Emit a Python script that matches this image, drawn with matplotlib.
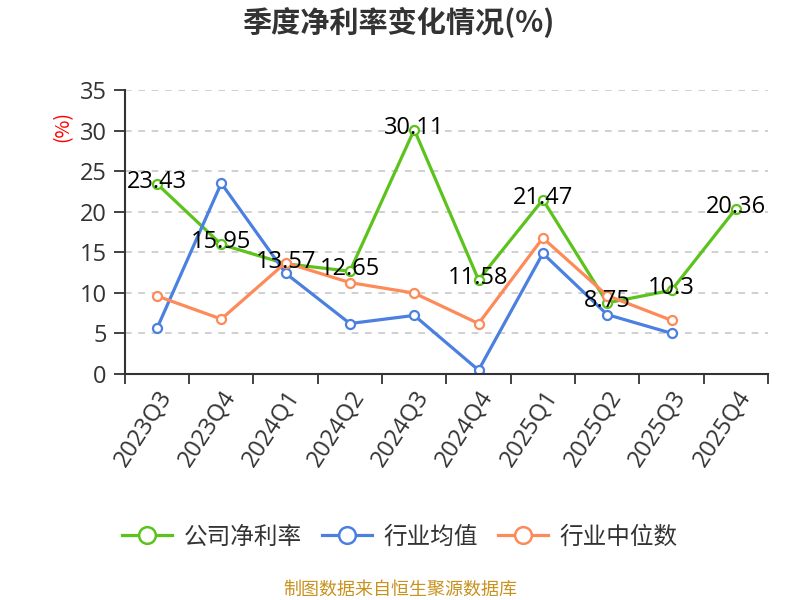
import numpy as np
import matplotlib
matplotlib.use("Agg")
import matplotlib.pyplot as plt

plt.rcParams['font.family'] = ['Noto Sans CJK SC', 'DejaVu Sans']
num_font = ['Open Sans', 'Noto Sans CJK SC']

quarters = ['2023Q3', '2023Q4', '2024Q1', '2024Q2', '2024Q3',
            '2024Q4', '2025Q1', '2025Q2', '2025Q3', '2025Q4']
company = [23.43, 15.95, 13.57, 12.65, 30.11, 11.58, 21.47, 8.75, 10.3, 20.36]
ind_mean = [5.6, 23.5, 12.4, 6.2, 7.2, 0.45, 14.85, 7.3, 5.0]
ind_median = [9.6, 6.75, 13.7, 11.25, 9.95, 6.2, 16.75, 9.65, 6.6]

series_names = ['公司净利率', '行业均值', '行业中位数']
colors = ['#5cc21c', '#4b80e0', '#fd8a58']

fig = plt.figure(figsize=(8, 6), dpi=100)
ax = fig.add_axes([0.156, 0.377, 0.804, 0.473])

x = np.arange(len(quarters))
for vals, name, col in zip([company, ind_mean, ind_median], series_names, colors):
    ax.plot(x[:len(vals)], vals, color=col, lw=2.3, marker='o', ms=6.5,
            mfc='white', mec=col, mew=1.6, label=name)

for xi, v in zip(x, company):
    ax.text(xi, v + 0.25, f'{v:g}', ha='center', va='center',
            fontsize=17, color='black', zorder=10, family=num_font)

ax.set_xlim(-0.5, len(quarters) - 0.5)
ax.set_ylim(0, 35)
ax.set_yticks(np.arange(0, 36, 5))
ax.set_yticklabels([str(v) for v in range(0, 36, 5)], family=num_font)
ax.set_xticks(np.arange(-0.5, len(quarters), 1.0))
ax.set_xticklabels([])
ax.set_xticks(x, minor=True)
ax.set_xticklabels(quarters, minor=True, rotation=57, ha='right',
                   rotation_mode='anchor', fontsize=17, color='#333333',
                   family=num_font)
ax.tick_params(axis='x', which='minor', length=0, pad=9)
ax.tick_params(axis='x', which='major', length=7, width=1.3, color='#333333')
ax.tick_params(axis='y', length=8, width=1.3, color='#333333', pad=5,
               labelsize=17, labelcolor='#333333')
ax.yaxis.grid(True, linestyle=(0, (4, 4)), color='#c8c8c8', lw=1.2)
ax.set_axisbelow(True)
for s in ['top', 'right']:
    ax.spines[s].set_visible(False)
for s in ['left', 'bottom']:
    ax.spines[s].set_color('#333333')
    ax.spines[s].set_linewidth(1.5)

fig.text(0.079, 0.79, '(%)', rotation=90, color='red', fontsize=14,
         ha='center', va='center')
fig.text(0.498, 0.962, '季度净利率变化情况(%)', ha='center', va='center',
         fontsize=21, fontweight='bold', color='#333333')
leg = fig.legend(loc='center', bbox_to_anchor=(0.5, 0.105), ncol=3, frameon=False,
                 fontsize=17, handlelength=2.1, handletextpad=0.5,
                 columnspacing=0.85, labelcolor='#333333', markerscale=1.85)
for h in leg.legend_handles:
    h.set_markeredgewidth(1.8)
fig.text(0.5, 0.017, '制图数据来自恒生聚源数据库', ha='center', va='center',
         fontsize=13, color='#c8921e')

fig.savefig('out.png', dpi=100)
